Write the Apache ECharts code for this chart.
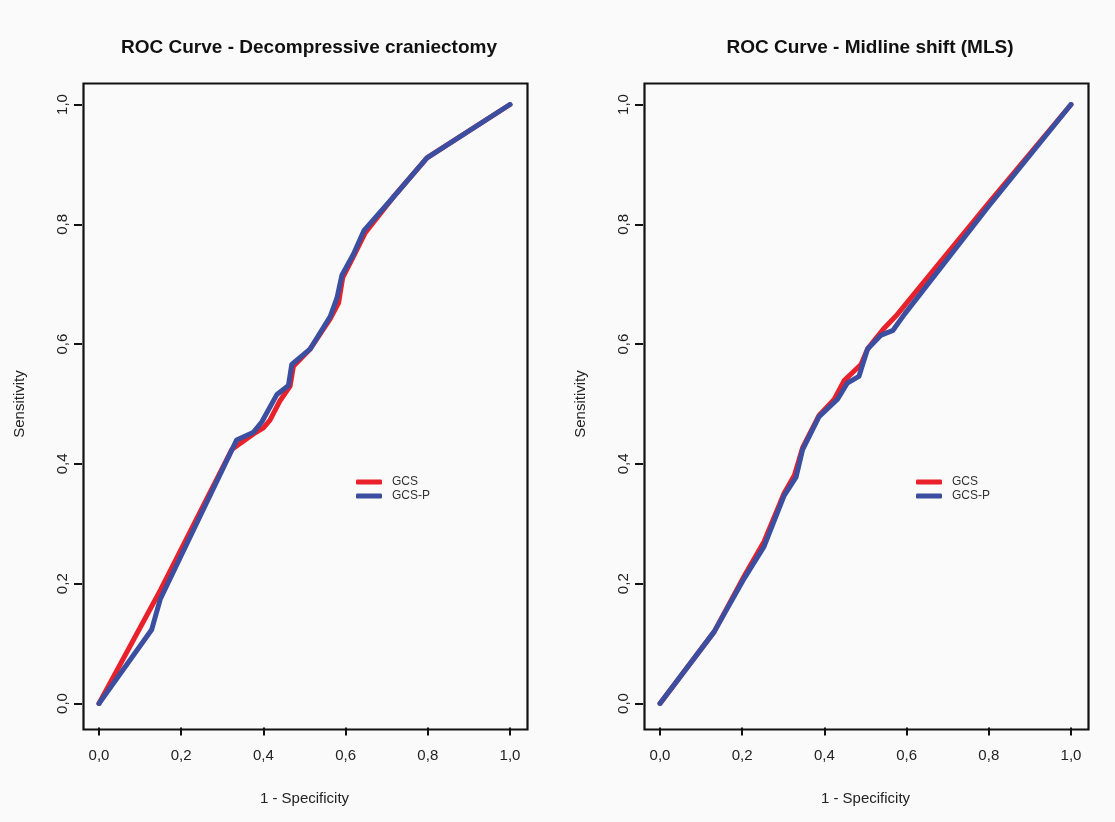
<!DOCTYPE html>
<html>
<head>
<meta charset="utf-8">
<script src="https://cdn.jsdelivr.net/npm/echarts@6/dist/echarts.min.js"></script>
<style>
html,body{margin:0;padding:0;background:#fafafa;}
#chart{width:1115px;height:822px;}
</style>
</head>
<body>
<div id="chart"></div>
<script>
// Tick labels
const tickValues = [0, 0.2, 0.4, 0.6, 0.8, 1.0];
const titles = ['ROC Curve - Decompressive craniectomy', 'ROC Curve - Midline shift (MLS)'];
const seriesNames = ['GCS', 'GCS-P'];

// Left panel: [1 - specificity, sensitivity]
const dcGCS = [
  [0, 0], [0.15, 0.19], [0.323, 0.424], [0.345, 0.435], [0.376, 0.450], [0.40, 0.46],
  [0.416, 0.473], [0.44, 0.505], [0.465, 0.53], [0.473, 0.563], [0.514, 0.592],
  [0.5625, 0.642], [0.583, 0.669], [0.593, 0.711], [0.619, 0.746], [0.648, 0.786],
  [0.717, 0.846], [0.798, 0.911], [1, 1]
];
const dcGCSP = [
  [0, 0], [0.128, 0.123], [0.149, 0.174], [0.335, 0.44], [0.376, 0.453], [0.396, 0.47],
  [0.433, 0.516], [0.461, 0.531], [0.469, 0.566], [0.514, 0.592], [0.5625, 0.646],
  [0.579, 0.677], [0.591, 0.715], [0.619, 0.75], [0.645, 0.79], [0.717, 0.846],
  [0.798, 0.911], [1, 1]
];
// Right panel
const mlsGCS = [
  [0, 0], [0.132, 0.12], [0.205, 0.213], [0.253, 0.27], [0.302, 0.351], [0.327, 0.381],
  [0.347, 0.427], [0.387, 0.481], [0.424, 0.508], [0.448, 0.539], [0.489, 0.566],
  [0.505, 0.592], [0.546, 0.627], [0.578, 0.65], [0.798, 0.834], [1, 1]
];
const mlsGCSP = [
  [0, 0], [0.132, 0.12], [0.205, 0.209], [0.253, 0.262], [0.302, 0.347], [0.331, 0.378],
  [0.347, 0.424], [0.387, 0.479], [0.432, 0.508], [0.456, 0.535], [0.484, 0.546],
  [0.505, 0.592], [0.538, 0.615], [0.567, 0.623], [0.595, 0.65], [0.798, 0.829], [1, 1]
];

const RED = '#e8212b';
const BLUE = '#3b4ea0';
const FONT = 'Liberation Sans, Arial, sans-serif';
const fmt = v => v.toFixed(1).replace('.', ',');

const panels = [
  { left: 99, boxLeft: 82, data: [dcGCS, dcGCSP], legendLeft: 353 },
  { left: 660, boxLeft: 643, data: [mlsGCS, mlsGCSP], legendLeft: 913 }
];
const gridTop = 104.5, gridH = 599, gridW = 411;
const boxTop = 82, boxH = 646, boxW = 444;

const chart = echarts.init(document.getElementById('chart'), null, { renderer: 'canvas' });

const option = {
  backgroundColor: '#fafafa',
  animation: false,
  title: panels.map((p, i) => ({
    text: titles[i],
    left: p.boxLeft + boxW / 2,
    top: 33,
    textAlign: 'center',
    textStyle: { fontFamily: FONT, fontSize: 19, fontWeight: 'bold', color: '#111' }
  })),
  legend: panels.map((p, i) => ({
    data: seriesNames.map((n, k) => ({ name: n + (i ? ' ' : ''), icon: 'roundRect' })),
    orient: 'vertical',
    left: p.legendLeft - 2,
    top: 471,
    itemWidth: 26,
    itemHeight: 5,
    itemGap: 2,
    selectedMode: false,
    textStyle: { fontFamily: FONT, fontSize: 12, color: '#333', padding: [0, 0, 0, 5] }
  })),
  grid: panels.map(p => ({ left: p.left, top: gridTop, width: gridW, height: gridH })),
  xAxis: panels.map((p, i) => ({
    type: 'value', gridIndex: i, min: 0, max: 1, interval: 0.2,
    offset: 24,
    name: '1 - Specificity', nameLocation: 'middle', nameGap: 64,
    nameTextStyle: { fontFamily: FONT, fontSize: 15, color: '#222' },
    axisLine: { show: false, onZero: false },
    axisTick: { show: true, length: 8, lineStyle: { color: '#111', width: 2 } },
    axisLabel: { formatter: fmt, margin: 21, fontFamily: FONT, fontSize: 15, color: '#222' },
    splitLine: { show: false }
  })),
  yAxis: panels.map((p, i) => ({
    type: 'value', gridIndex: i, min: 0, max: 1, interval: 0.2,
    offset: 17,
    name: 'Sensitivity', nameLocation: 'middle', nameGap: 55,
    nameTextStyle: { fontFamily: FONT, fontSize: 15, color: '#222' },
    axisLine: { show: false, onZero: false },
    axisTick: { show: true, length: 8, lineStyle: { color: '#111', width: 2 } },
    axisLabel: { formatter: fmt, rotate: 90, margin: 12, fontFamily: FONT, fontSize: 15, color: '#222' },
    splitLine: { show: false }
  })),
  series: [],
  graphic: panels.map(p => ({
    type: 'rect', left: p.boxLeft - 1, top: boxTop - 1, z: 100, silent: true,
    shape: { width: boxW, height: boxH },
    style: { fill: 'none', stroke: '#111', lineWidth: 2.2 }
  }))
};

panels.forEach((p, i) => {
  p.data.forEach((d, k) => {
    option.series.push({
      name: seriesNames[k] + (i ? ' ' : ''),
      type: 'line', xAxisIndex: i, yAxisIndex: i,
      data: d, symbol: 'none', smooth: false,
      color: k === 0 ? RED : BLUE,
      lineStyle: { width: 5, color: k === 0 ? RED : BLUE, cap: 'round', join: 'round' },
      z: 2 + k
    });
  });
});

chart.setOption(option);
</script>
</body>
</html>
